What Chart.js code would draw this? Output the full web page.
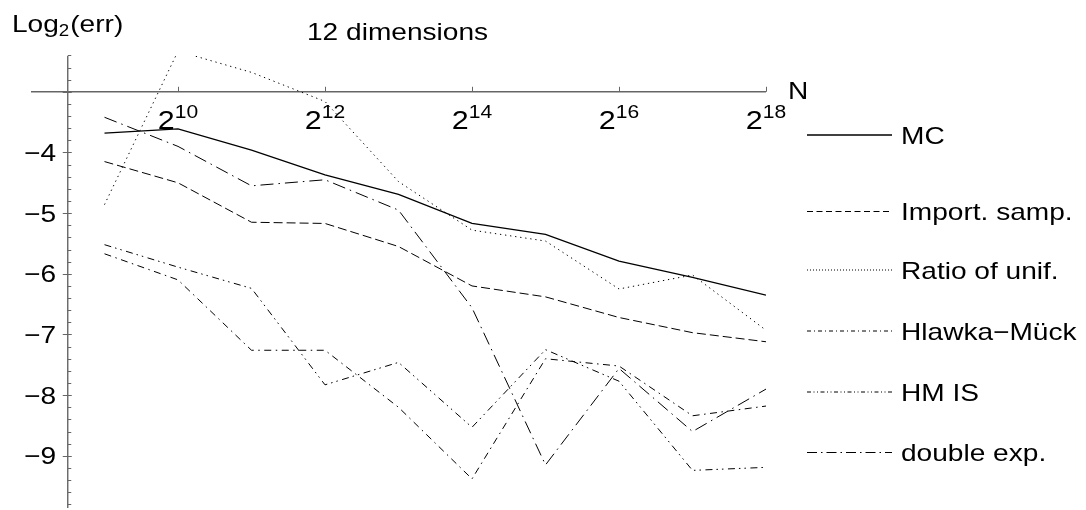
<!DOCTYPE html>
<html>
<head>
<meta charset="utf-8">
<script src="https://cdn.jsdelivr.net/npm/chart.js@4.4.0/dist/chart.umd.min.js"></script>
<style>
  html, body { margin: 0; padding: 0; background: #fff; }
  canvas { display: block; }
</style>
</head>
<body>
<canvas id="c" width="1086" height="510"></canvas>
<script>
// log2 of the sample count N
const log2N = [9, 10, 11, 12, 13, 14, 15, 16, 17, 18];

// log2 of the integration error for each method
const mcErr        = [-3.68, -3.61, -3.96, -4.37, -4.69, -5.17, -5.35, -5.79, -6.06, -6.35];
const importErr    = [-4.15, -4.50, -5.15, -5.17, -5.55, -6.20, -6.38, -6.72, -6.97, -7.12];
const ratioErr     = [-4.86, -2.33, -2.68, -3.16, -4.48, -5.28, -5.46, -6.25, -6.02, -6.93];
const hlawkaErr    = [-5.67, -6.10, -7.26, -7.26, -8.20, -9.38, -7.40, -7.52, -8.34, -8.18];
const hmIsErr      = [-5.52, -5.89, -6.24, -7.83, -7.46, -8.53, -7.25, -7.77, -9.24, -9.19];
const doubleExpErr = [-3.42, -3.90, -4.55, -4.45, -4.95, -6.56, -9.15, -7.56, -8.60, -7.90];

const seriesNames = ['MC', 'Import. samp.', 'Ratio of unif.', 'Hlawka\u2212M\u00fcck', 'HM IS', 'double exp.'];

// axis ticks: powers of two on N, integer levels on log2(err)
const xTickPowers = [10, 12, 14, 16, 18];
const yTickValues = [-4, -5, -6, -7, -8, -9];

const FONT = '"Liberation Sans", Arial, Helvetica, sans-serif';
const SX = 1.17; // horizontal stretch of all lettering

const styles = [
  { width: 1.3, dash: [],                      legendDash: [] },
  { width: 1.0, dash: [9, 4],                  legendDash: [6, 3.5] },
  { width: 1.0, dash: [1.3, 3.8],              legendDash: [1, 2] },
  { width: 1.0, dash: [7, 4.5, 1.5, 4.5],      legendDash: [4, 3, 1, 3] },
  { width: 1.0, dash: [7, 4, 1.5, 4, 1.5, 4.5], legendDash: [4, 2.5, 1, 2.5, 1, 2.5] },
  { width: 1.0, dash: [13, 5, 1.5, 5],         legendDash: [10, 4, 1.5, 4] }
];
const allSeries = [mcErr, importErr, ratioErr, hlawkaErr, hmIsErr, doubleExpErr];

function textW(ctx, s, size) {
  ctx.font = size + 'px ' + FONT;
  return ctx.measureText(s).width * SX;
}
function drawText(ctx, s, x, y, size, align) {
  ctx.save();
  ctx.font = size + 'px ' + FONT;
  ctx.fillStyle = '#000';
  ctx.textBaseline = 'alphabetic';
  let w = ctx.measureText(s).width * SX;
  let x0 = x;
  if (align === 'right') x0 = x - w;
  else if (align === 'center') x0 = x - w / 2;
  ctx.translate(x0, y);
  ctx.scale(SX, 1);
  ctx.textAlign = 'left';
  ctx.fillText(s, 0, 0);
  ctx.restore();
  return w;
}

// crossing axes, ticks and tick labels
const axesPlugin = {
  id: 'crossAxes',
  beforeDatasetsDraw(chart) {
    const ctx = chart.ctx;
    const xs = chart.scales.x, ys = chart.scales.y;
    const ca = chart.chartArea;
    const ax = xs.getPixelForValue(8.5);
    const ay = ys.getPixelForValue(-3);
    ctx.save();
    ctx.strokeStyle = '#666';
    ctx.lineWidth = 1.4;
    ctx.beginPath();
    ctx.moveTo(ca.left, ay); ctx.lineTo(ca.right, ay);
    ctx.moveTo(ax, ca.top); ctx.lineTo(ax, ca.bottom);
    ctx.stroke();

    ctx.lineWidth = 1;
    ctx.beginPath();
    for (const p of xTickPowers) {
      const px = Math.round(xs.getPixelForValue(p)) + 0.5;
      ctx.moveTo(px, ay); ctx.lineTo(px, ay - 5);
    }
    for (let k = -49; k <= -12; k++) {
      const py = Math.round(ys.getPixelForValue(k / 5)) + 0.5;
      if (k % 5 === 0) { ctx.moveTo(ax - 5, py); ctx.lineTo(ax + 4, py); }
      else { ctx.moveTo(ax, py); ctx.lineTo(ax + 3.5, py); }
    }
    ctx.stroke();
    ctx.restore();

    for (const p of xTickPowers) {
      const px = xs.getPixelForValue(p);
      const base = '2', exp = String(p);
      const w = textW(ctx, base, 26) + textW(ctx, exp, 18);
      const x0 = px - w / 2;
      const w2 = drawText(ctx, base, x0, 129, 26, 'left');
      drawText(ctx, exp, x0 + w2, 118, 18, 'left');
    }
    for (const v of yTickValues) {
      const py = ys.getPixelForValue(v);
      drawText(ctx, '\u2212' + Math.abs(v), 56, py + 8.5, 24, 'right');
    }
  },
  afterDraw(chart) {
    const ctx = chart.ctx;
    // axis captions and title
    let x = 12;
    x += drawText(ctx, 'Log', x, 32, 24, 'left');
    x += drawText(ctx, '2', x, 36, 16, 'left') + 1;
    drawText(ctx, '(err)', x, 32, 24, 'left');
    drawText(ctx, '12 dimensions', 307, 39.5, 24, 'left');
    drawText(ctx, 'N', 788, 99, 24, 'left');

    // legend
    const rows = [135, 211.5, 270, 331, 392, 452.5];
    seriesNames.forEach((name, i) => {
      const y = rows[i];
      ctx.save();
      ctx.strokeStyle = '#000';
      ctx.lineWidth = styles[i].width;
      ctx.setLineDash(styles[i].legendDash);
      ctx.beginPath();
      ctx.moveTo(807, y); ctx.lineTo(892, y);
      ctx.stroke();
      ctx.restore();
      drawText(ctx, name, 901, y + 8.5, 24, 'left');
    });
  }
};

const datasets = allSeries.map((vals, i) => ({
  label: seriesNames[i],
  data: log2N.map((n, j) => ({ x: n, y: vals[j] })),
  borderColor: '#000',
  borderWidth: styles[i].width,
  borderDash: styles[i].dash,
  pointRadius: 0,
  fill: false,
  tension: 0
}));

new Chart(document.getElementById('c').getContext('2d'), {
  type: 'line',
  data: { datasets },
  options: {
    responsive: false,
    animation: false,
    devicePixelRatio: 1,
    layout: { padding: { left: 31, right: 320, top: 56, bottom: 2 } },
    scales: {
      x: { type: 'linear', min: 8, max: 18, display: false },
      y: { type: 'linear', min: -9.86, max: -2.41, display: false }
    },
    plugins: { legend: { display: false }, tooltip: { enabled: false } }
  },
  plugins: [axesPlugin]
});
</script>
</body>
</html>
